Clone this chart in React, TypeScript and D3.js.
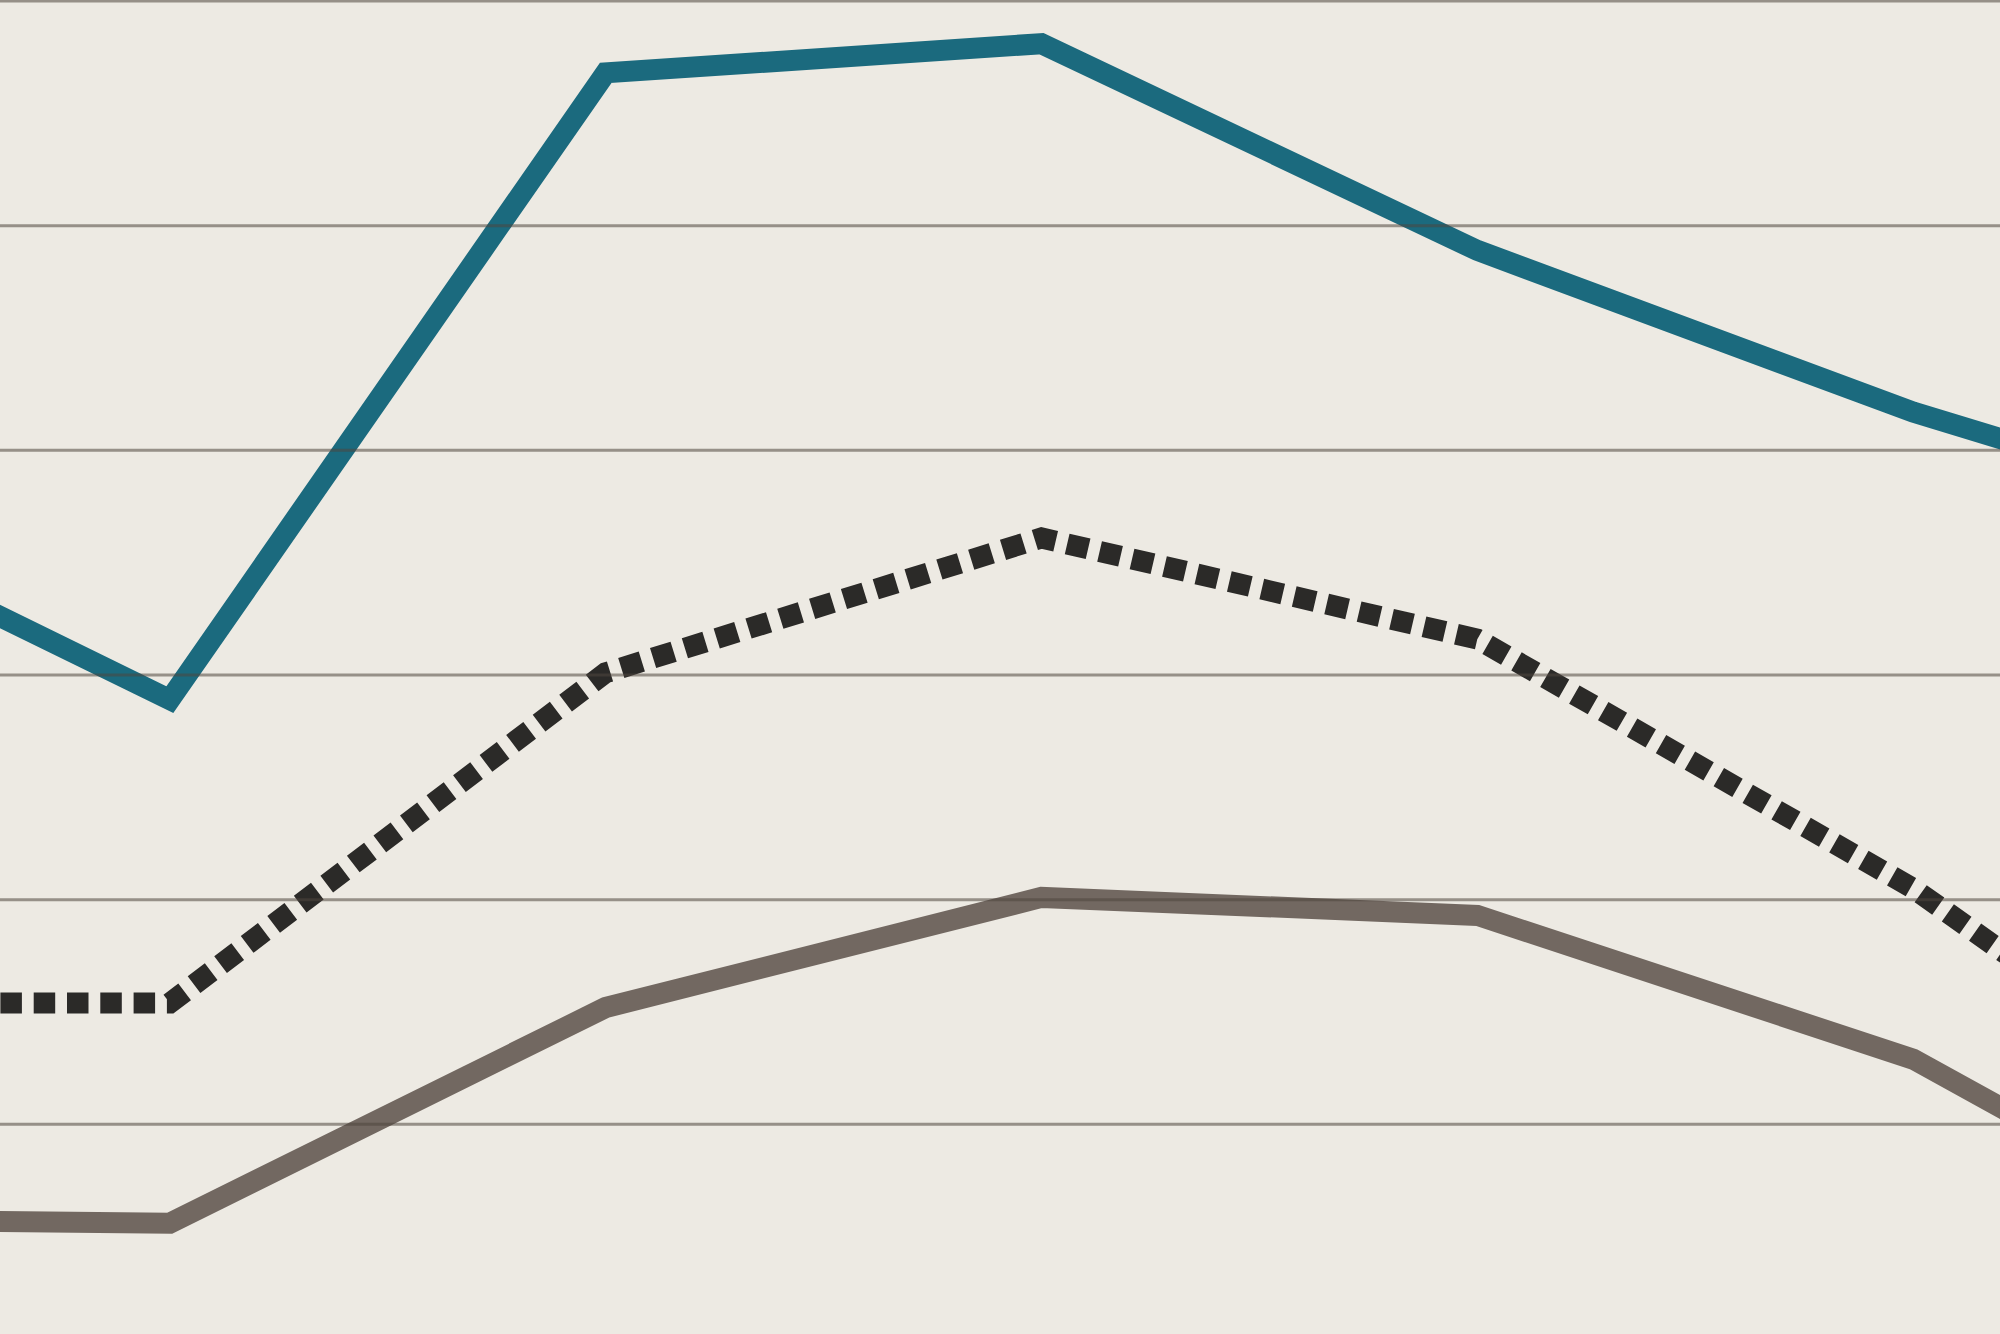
import React, { useRef, useEffect } from 'react';
import * as d3 from 'd3';

// Periods: the first and last sit just outside the visible crop
const periods = ['P0', 'P1', 'P2', 'P3', 'P4', 'P5', 'P6'];

const tealSeries = [38.4, 28.9, 56.8, 58.1, 48.9, 41.7, 35.8];
const dottedSeries = [15.4, 15.4, 30.1, 36.1, 31.6, 20.5, 6.8];
const graySeries = [5.8, 5.6, 15.2, 20.1, 19.3, 12.9, 2.2];

const gridTicks = [10, 20, 30, 40, 50, 60];

const colors = {
  background: '#edeae3',
  teal: '#1b6a7e',
  dotted: '#2b2a28',
  gray: '#726861',
  grid: 'rgba(78, 70, 62, 0.55)',
};

const width = 2000;
const height = 1334;

const App: React.FC = () => {
  const svgRef = useRef<SVGSVGElement>(null);

  useEffect(() => {
    document.body.style.margin = '0';
    if (!svgRef.current) return;

    const svg = d3.select(svgRef.current);
    svg.selectAll('*').remove();

    const x = d3.scalePoint<string>()
      .domain(periods)
      .range([-266, 2349]);

    const y = d3.scaleLinear()
      .domain([0, 60])
      .range([1349, 1]);

    svg.append('rect')
      .attr('width', width)
      .attr('height', height)
      .attr('fill', colors.background);

    const line = d3.line<number>()
      .x((_, i) => x(periods[i]) || 0)
      .y(d => y(d));

    // Series
    const series = [
      { values: graySeries, color: colors.gray, dash: null },
      { values: dottedSeries, color: colors.dotted, dash: '21.5,11.8' },
      { values: tealSeries, color: colors.teal, dash: null },
    ];

    series.forEach(s => {
      svg.append('path')
        .datum(s.values)
        .attr('fill', 'none')
        .attr('stroke', s.color)
        .attr('stroke-width', 21)
        .attr('stroke-linejoin', 'miter')
        .attr('stroke-linecap', 'butt')
        .attr('stroke-dasharray', s.dash)
        .attr('d', line);
    });

    // Gridlines sit above the lines
    svg.append('g')
      .selectAll('line')
      .data(gridTicks)
      .enter()
      .append('line')
      .attr('x1', 0)
      .attr('x2', width)
      .attr('y1', d => y(d))
      .attr('y2', d => y(d))
      .attr('stroke', colors.grid)
      .attr('stroke-width', 3);
  }, []);

  return (
    <div style={{ position: 'absolute', left: 0, top: 0, width, height, overflow: 'hidden' }}>
      <svg ref={svgRef} width={width} height={height} style={{ display: 'block' }} />
    </div>
  );
};

export default App;
